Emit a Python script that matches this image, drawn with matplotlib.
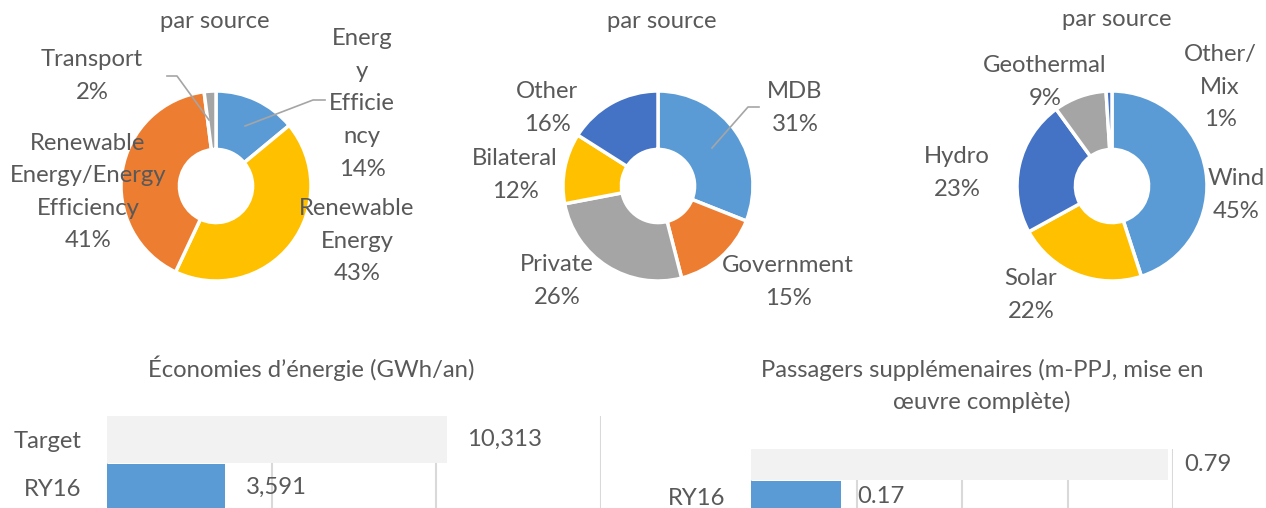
import matplotlib as mpl
import numpy as np

mpl.use("Agg")
import matplotlib.pyplot as plt

W, H = 1266, 508
TEXT = "#595959"
GRID = "#D9D9D9"
LEADER = "#A5A5A5"

BLUE = "#5B9BD5"
ORANGE = "#ED7D31"
GRAY = "#A5A5A5"
YELLOW = "#FFC000"
DARKBLUE = "#4472C4"
LIGHT = "#F2F2F2"

# donut 1: by sector
sector_labels = ["Energ\ny\nEfficie\nncy", "Renewable\nEnergy",
                 "Renewable\nEnergy/Energy\nEfficiency", "Transport"]
sector_share = [14, 43, 41, 2]

# donut 2: by financing source
finance_labels = ["MDB", "Government", "Private", "Bilateral", "Other"]
finance_share = [31, 15, 26, 12, 16]

# donut 3: by technology
tech_labels = ["Wind", "Solar", "Hydro", "Geothermal", "Other/\nMix"]
tech_share = [45, 22, 23, 9, 1]

# bar charts
energy_cats = ["Target", "RY16"]
energy_vals = [10313, 3591]
pass_cats = ["", "RY16"]
pass_vals = [0.79, 0.17]

plt.rcParams["font.family"] = ["Lato", "DejaVu Sans"]
FS = 17.2


def px_axes(fig, left, top, width, height):
    return fig.add_axes([left / W, 1 - (top + height) / H, width / W, height / H])


def donut(fig, cx, cy, values, labels, colors, label_px, leaders=()):
    r = 95.0
    ax = px_axes(fig, cx - r, cy - r, 2 * r, 2 * r)
    ax.pie(values, colors=colors, startangle=90, counterclock=False, radius=1.0,
           wedgeprops=dict(width=0.615, edgecolor="white", linewidth=2.5))
    ax.set_xlim(-1, 1)
    ax.set_ylim(-1, 1)
    ax.axis("off")

    def to_data(px, py):
        return (px - cx) / r, (cy - py) / r

    for lab, val, (px, py) in zip(labels, values, label_px):
        x, y = to_data(px, py)
        ax.text(x, y, f"{lab}\n{val}%", ha="center", va="center",
                multialignment="center", fontsize=FS, color=TEXT,
                linespacing=1.68, clip_on=False)
    for pts in leaders:
        xs, ys = zip(*[to_data(px, py) for px, py in pts])
        ax.plot(xs, ys, color=LEADER, linewidth=1.2, clip_on=False)
    return ax


def hbars(fig, left, right, top, pitch, cats, vals, colors, xmax, step, fmt, pad):
    y0, y1 = -0.49, 2.0
    ax = px_axes(fig, left, top, right - left, (y1 - y0) * pitch)
    pos = np.arange(len(cats))
    bars = ax.barh(pos, vals, height=0.98, color=colors, zorder=2)
    ax.bar_label(bars, labels=[fmt(v) for v in vals], padding=pad,
                 fontsize=FS, color=TEXT)
    ax.set_ylim(y1, y0)
    ax.set_xlim(0, xmax)
    ax.set_xticks(np.arange(0, xmax + step / 2, step))
    ax.set_yticks(pos)
    ax.set_yticklabels(cats, fontsize=FS, color=TEXT)
    ax.tick_params(axis="y", length=0, pad=18.5)
    ax.tick_params(axis="x", length=0, labelbottom=False)
    ax.xaxis.grid(True, color=GRID, linewidth=1.5, zorder=0)
    ax.set_axisbelow(True)
    for s in ax.spines.values():
        s.set_visible(False)
    return ax


fig = plt.figure(figsize=(W / 100, H / 100), dpi=100)

donut(fig, 216, 186, sector_share, sector_labels, [BLUE, YELLOW, ORANGE, GRAY],
      [(362, 104), (357, 241), (88, 192), (92, 76)],
      leaders=[[(245, 126), (313, 100), (325, 100)],
               [(167, 76), (177, 76), (209, 120)]])
donut(fig, 658, 186, finance_share, finance_labels,
      [BLUE, ORANGE, GRAY, YELLOW, DARKBLUE],
      [(795, 108), (788, 282), (557, 281), (515, 175), (547, 108)],
      leaders=[[(712, 148), (748, 107), (759, 107)]])
donut(fig, 1112, 186, tech_share, tech_labels,
      [BLUE, YELLOW, DARKBLUE, GRAY, DARKBLUE],
      [(1236, 195), (1031, 295), (957, 173), (1045, 82), (1220, 87)])

for x, y in [(215, 21), (662, 22), (1117, 20)]:
    fig.text(x / W, 1 - y / H, "par source", ha="center", va="center",
             fontsize=FS, color=TEXT)

hbars(fig, 107, 601, 416, 48, energy_cats, energy_vals, [LIGHT, BLUE],
      15000, 5000, lambda v: f"{v:,.0f}", 15)
hbars(fig, 751, 1173, 449, 32, pass_cats, pass_vals, [LIGHT, BLUE],
      0.8, 0.2, lambda v: f"{v:.2f}", 12)

fig.text(311 / W, 1 - 368 / H, "Économies d’énergie (GWh/an)", ha="center",
         va="center", fontsize=FS, color=TEXT)
fig.text(982 / W, 1 - 386 / H,
         "Passagers supplémenaires (m-PPJ, mise en\nœuvre complète)",
         ha="center", va="center", multialignment="center", fontsize=FS,
         color=TEXT, linespacing=1.54)

fig.savefig("out.png", dpi=100, facecolor="white")
